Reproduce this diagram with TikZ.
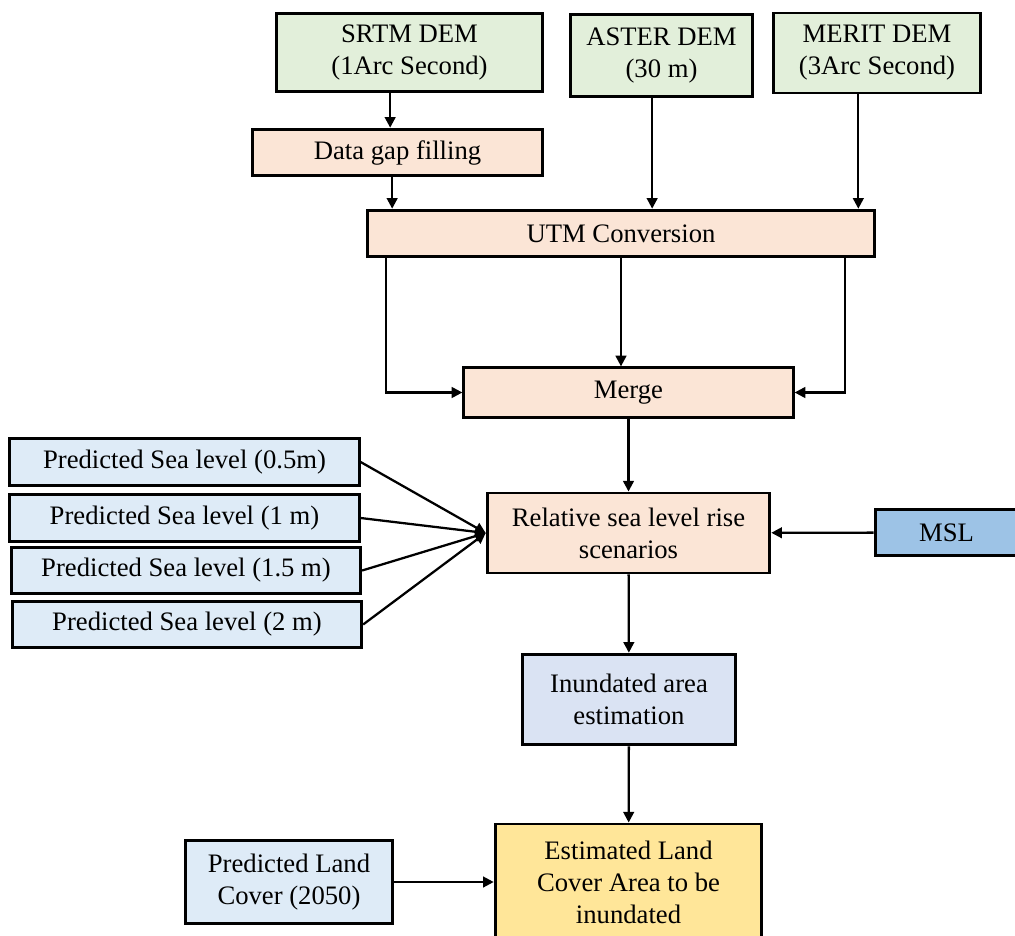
\documentclass[tikz,border=0pt]{standalone}
\usepackage{fontspec}
\setmainfont{Liberation Serif}
\usepackage{tikz}
\usetikzlibrary{arrows.meta,positioning}
\definecolor{demfill}{RGB}{226,239,218}
\definecolor{procfill}{RGB}{251,229,214}
\definecolor{seafill}{RGB}{222,235,247}
\definecolor{inundfill}{RGB}{218,227,243}
\definecolor{mslfill}{RGB}{157,195,230}
\definecolor{estfill}{RGB}{255,230,153}
\tikzset{
  fbox/.style={draw=black, line width=2.2pt, inner sep=0pt, align=center,
               font=\fontsize{20}{24}\selectfont},
  dembox/.style={fbox, fill=demfill},
  procbox/.style={fbox, fill=procfill},
  seabox/.style={fbox, fill=seafill, minimum width=262pt, minimum height=35pt},
  flow/.style={line width=1.7pt, -{Triangle[length=8pt,width=8pt]}},
}

\begin{document}
\begin{tikzpicture}[x=0.75pt,y=-0.75pt]
  \useasboundingbox (0,0) rectangle (1015,936);
  % input DEMs
  \node[dembox, minimum width=200pt, minimum height=59pt] (srtm) at (409.5,52.5) {SRTM DEM\\(1Arc Second)};
  \node[dembox, minimum width=137pt, minimum height=61pt] (aster) at (661.5,55.5) {ASTER DEM\\(30 m)};
  \node[dembox, minimum width=155pt, minimum height=60pt] (merit) at (877,53) {MERIT DEM\\(3Arc Second)};
  % preprocessing
  \node[procbox, minimum width=218pt, minimum height=35pt] (gap) at (397.5,152.5) {Data gap filling};
  \node[procbox, minimum width=380pt, minimum height=35pt] (utm) at (621,233.5) {UTM Conversion};
  \node[procbox, minimum width=247pt, minimum height=37pt] (merge) at (628.5,392.5) {Merge};
  \node[procbox, minimum width=212pt, minimum height=60pt] (rsl) at (628.5,533) {Relative sea level rise\\scenarios};
  % sea level inputs
  \node[seabox] (sea1) at (184.5,462) {Predicted Sea level (0.5m)};
  \node[seabox] (sea2) at (184.5,518) {Predicted Sea level (1 m)};
  \node[seabox] (sea3) at (186,570.5) {Predicted Sea level (1.5 m)};
  \node[seabox] (sea4) at (187,624.5) {Predicted Sea level (2 m)};
  \node[fbox, fill=mslfill, minimum width=107pt, minimum height=35pt] (msl) at (946.5,532.5) {MSL};
  % outputs
  \node[fbox, fill=inundfill, minimum width=160pt, minimum height=68pt] (inund) at (629,699.5) {Inundated area\\estimation};
  \node[fbox, fill=seafill, minimum width=155pt, minimum height=62pt] (landc) at (289,882) {Predicted Land\\Cover (2050)};
  \node[fbox, fill=estfill, minimum width=200pt, minimum height=87pt] (est) at (628.5,882) {Estimated Land\\Cover Area to be\\inundated};

  \draw[flow] ([xshift=-14.5pt]srtm.south) -- ([xshift=-14.5pt]srtm.south |- gap.north);
  \draw[flow] ([xshift=-4pt]gap.south) -- ([xshift=-4pt]gap.south |- utm.north);
  \draw[flow] ([xshift=-7pt]aster.south) -- ([xshift=-7pt]aster.south |- utm.north);
  \draw[flow] ([xshift=-14pt]merit.south) -- ([xshift=-14pt]merit.south |- utm.north);
  % utm to merge
  \draw[flow] ([xshift=15pt]utm.south west) |- (merge.west);
  \draw[flow] (utm.south) -- (utm.south |- merge.north);
  \draw[flow] ([xshift=-23pt]utm.south east) |- (merge.east);
  \draw[flow] (merge) -- (rsl);
  \foreach \s in {sea1,sea2,sea3,sea4}
    \draw[flow] (\s.east) -- (rsl.west);
  \draw[flow] (msl) -- (rsl);
  \draw[flow] (rsl) -- (inund);
  \draw[flow] (inund) -- (est);
  \draw[flow] (landc) -- (est);
\end{tikzpicture}
\end{document}
